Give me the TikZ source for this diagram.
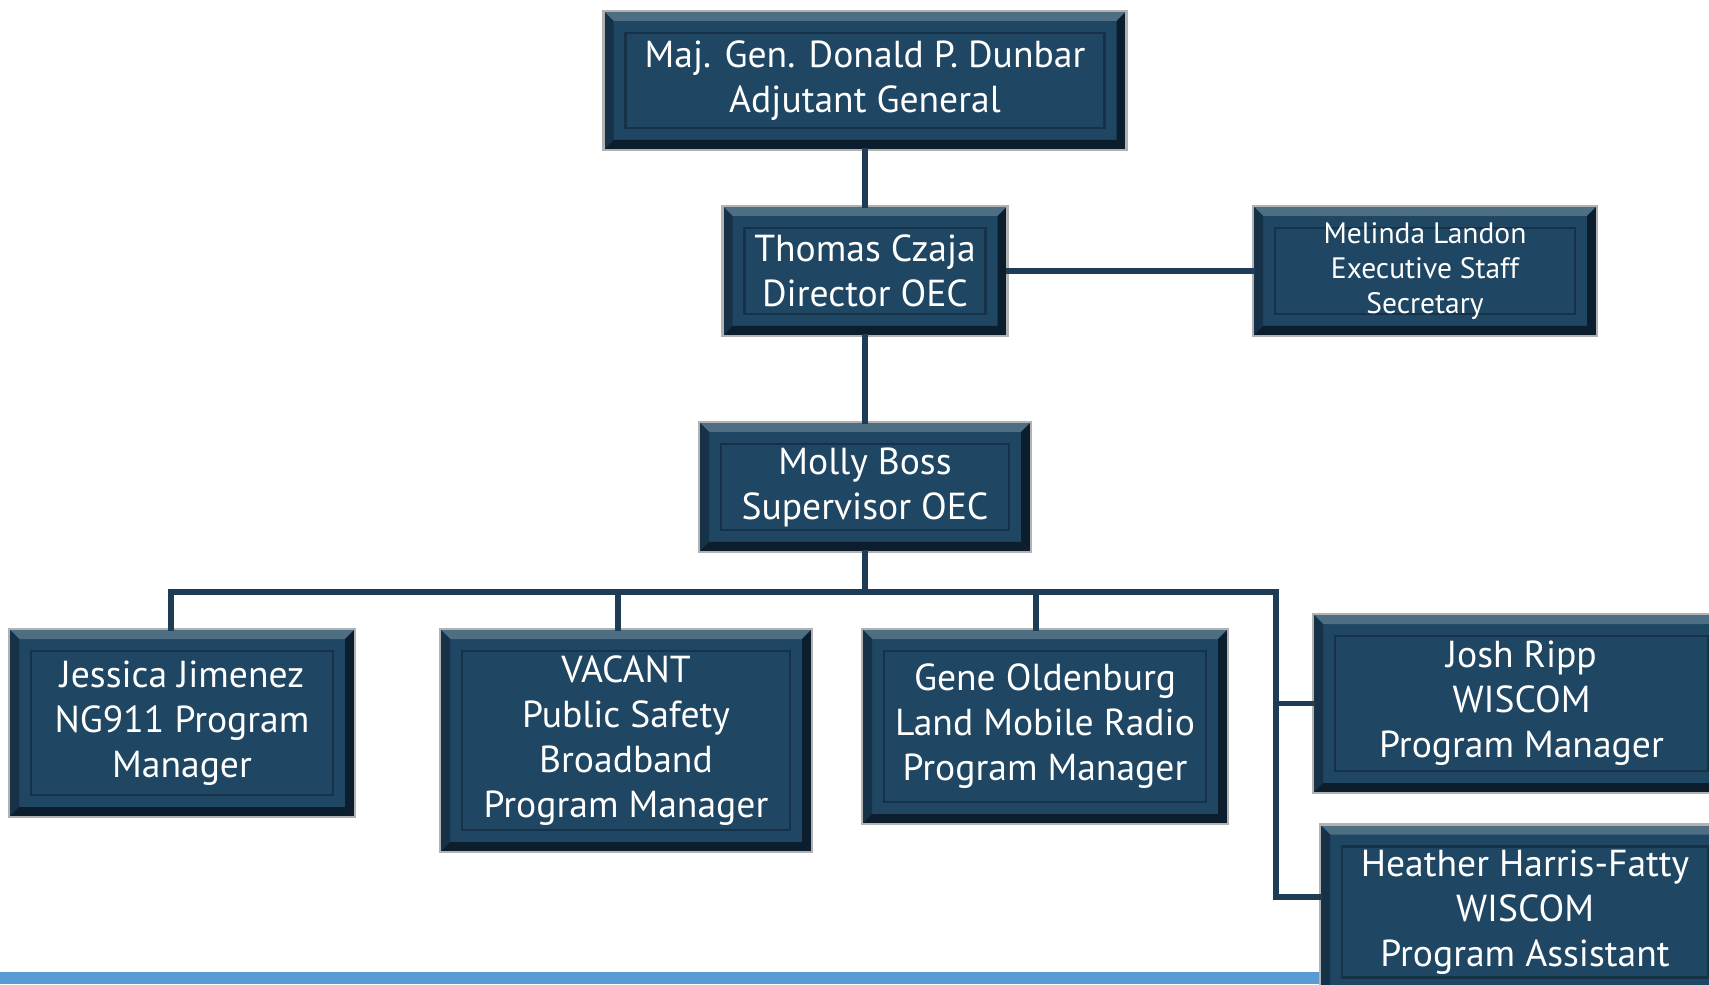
\documentclass[tikz,border=0pt]{standalone}
\usepackage{fontspec}
\setmainfont{PT Sans}
\definecolor{postblue}{RGB}{31,70,98}
\definecolor{postdark}{RGB}{12,30,45}
\definecolor{postmid}{RGB}{22,50,72}
\definecolor{postlight}{RGB}{78,110,132}
\definecolor{linkblue}{RGB}{30,60,86}
\definecolor{barblue}{RGB}{91,155,213}
\tikzstyle{post}=[rectangle, fill=postblue, draw=gray!60, line width=0.6pt, text=white, align=center, inner sep=0pt,
  font=\fontsize{10.7}{12.8}\selectfont,
  path picture={
    \coordinate (ppnw) at (path picture bounding box.north west);
    \coordinate (ppne) at (path picture bounding box.north east);
    \coordinate (ppsw) at (path picture bounding box.south west);
    \coordinate (ppse) at (path picture bounding box.south east);
    \fill[postlight] (ppnw) -- (ppne) -- ([shift={(-0.1,-0.1)}]ppne) -- ([shift={(0.1,-0.1)}]ppnw) -- cycle;
    \fill[postmid] (ppnw) -- ([shift={(0.1,-0.1)}]ppnw) -- ([shift={(0.1,0.1)}]ppsw) -- (ppsw) -- cycle;
    \fill[postdark] (ppsw) -- (ppse) -- ([shift={(-0.1,0.1)}]ppse) -- ([shift={(0.1,0.1)}]ppsw) -- cycle;
    \fill[postdark] (ppse) -- (ppne) -- ([shift={(-0.1,-0.1)}]ppne) -- ([shift={(-0.1,0.1)}]ppse) -- cycle;
    \draw[postmid, line width=0.6pt] ([shift={(0.22,-0.22)}]ppnw) rectangle ([shift={(-0.22,0.22)}]ppse);
  }]
\tikzstyle{link}=[draw=linkblue, line width=1.7pt, line cap=rect]

\begin{document}
\begin{tikzpicture}
\useasboundingbox (0,0) rectangle (17.09,9.84);
\fill[barblue] (0,0) rectangle (13.3,0.12);
\node[post, minimum width=5.23cm, minimum height=1.39cm] at (8.65, 9.035) (dunbar) {Maj. Gen. Donald P. Dunbar\\Adjutant General};
\node[post, minimum width=2.85cm, minimum height=1.30cm] at (8.65, 7.13) (czaja) {Thomas Czaja\\Director OEC};
\node[post, minimum width=3.44cm, minimum height=1.30cm, font=\fontsize{8.4}{10}\selectfont] at (14.25, 7.13) (landon) {Melinda Landon\\Executive Staff\\Secretary};
\node[post, minimum width=3.32cm, minimum height=1.30cm] at (8.65, 4.97) (boss) {Molly Boss\\Supervisor OEC};
\node[post, minimum width=3.46cm, minimum height=1.88cm] at (1.82, 2.61) (jimenez) {Jessica Jimenez\\NG911 Program\\Manager};
\node[post, minimum width=3.72cm, minimum height=2.23cm] at (6.26, 2.435) (vacant) {VACANT\\Public Safety\\Broadband\\Program Manager};
\node[post, minimum width=3.66cm, minimum height=1.95cm] at (10.45, 2.575) (oldenburg) {Gene Oldenburg\\Land Mobile Radio\\Program Manager};
\node[post, minimum width=4.17cm, minimum height=1.79cm] at (15.215, 2.805) (ripp) {Josh Ripp\\WISCOM\\Program Manager};
\node[post, minimum width=4.10cm, minimum height=1.75cm] at (15.25, 0.72) (harris) {Heather Harris-Fatty\\WISCOM\\Program Assistant};
\coordinate (busL) at (1.71, 3.92);
\coordinate (busV) at (6.18, 3.92);
\coordinate (busM) at (8.65, 3.92);
\coordinate (busO) at (10.36, 3.92);
\coordinate (busR) at (12.76, 3.92);
\coordinate (spineEnd) at (12.76, 0.87);
\draw[link] (dunbar) -- (czaja);
\draw[link] (czaja) -- (landon);
\draw[link] (czaja) -- (boss);
\draw[link] (boss) -- (busM);
\draw[link] (busL |- jimenez.north) -- (busL) -- (busR) -- (spineEnd) -- (spineEnd -| harris.west);
\draw[link] (busV) -- (busV |- vacant.north);
\draw[link] (busO) -- (busO |- oldenburg.north);
\draw[link] (busR |- ripp.west) -- (ripp.west);
\end{tikzpicture}
\end{document}
